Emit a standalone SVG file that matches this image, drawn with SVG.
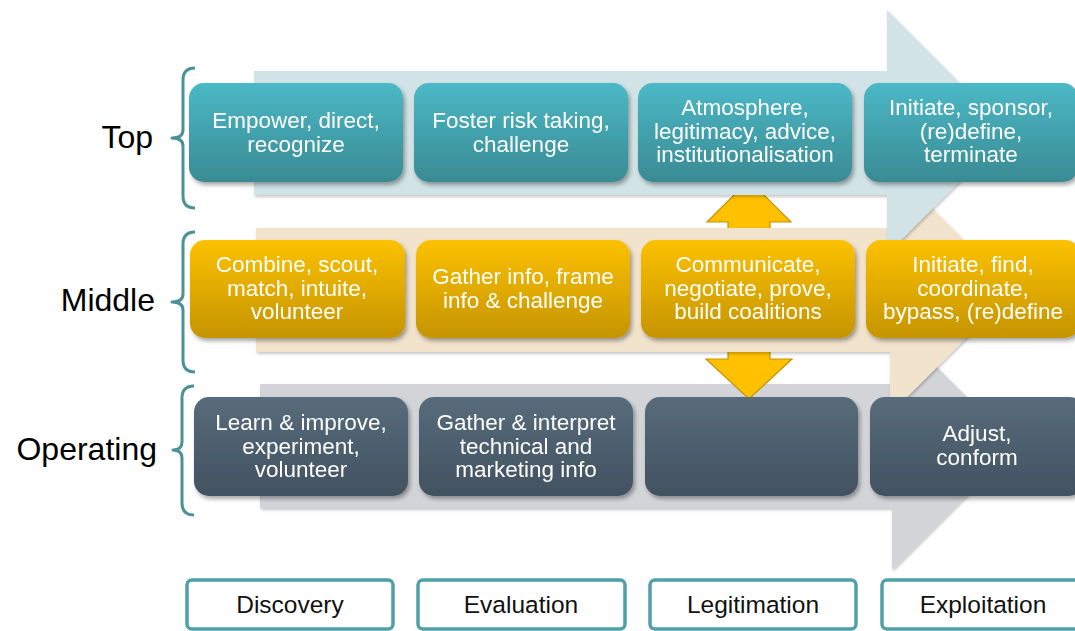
<svg xmlns="http://www.w3.org/2000/svg" width="1075" height="631" viewBox="0 0 1075 631">
  <defs>
    <linearGradient id="gTop" x1="0" y1="0" x2="0" y2="1">
      <stop offset="0" stop-color="#4BB9C6"/>
      <stop offset="1" stop-color="#398A93"/>
    </linearGradient>
    <linearGradient id="gMid" x1="0" y1="0" x2="0" y2="1">
      <stop offset="0" stop-color="#FCC100"/>
      <stop offset="1" stop-color="#C59400"/>
    </linearGradient>
    <linearGradient id="gOp" x1="0" y1="0" x2="0" y2="1">
      <stop offset="0" stop-color="#576C7B"/>
      <stop offset="1" stop-color="#425160"/>
    </linearGradient>
    <filter id="shadow" x="-10%" y="-10%" width="125%" height="130%">
      <feDropShadow dx="2" dy="3" stdDeviation="2" flood-color="#000" flood-opacity="0.35"/>
    </filter>
    <filter id="bandShadow" x="-10%" y="-10%" width="125%" height="130%">
      <feDropShadow dx="1" dy="2" stdDeviation="1.5" flood-color="#000" flood-opacity="0.22"/>
    </filter>
    <style>
      .node { filter: url(#shadow); }
      .top { fill: url(#gTop); }
      .mid { fill: url(#gMid); }
      .op { fill: url(#gOp); }
      .ntext { font-family: "Liberation Sans", Arial, sans-serif; font-size: 22.5px; fill: #FFFFFF; text-anchor: middle; }
      .level { font-family: "Liberation Sans", Arial, sans-serif; font-size: 32px; fill: #000000; text-anchor: end; }
      .phase rect { fill: #FFFFFF; stroke: #4FA0A8; stroke-width: 3.5; }
      .phase text { font-family: "Liberation Sans", Arial, sans-serif; font-size: 24.5px; fill: #111111; text-anchor: middle; }
      .brace { fill: none; stroke: #4A9198; stroke-width: 3; stroke-linejoin: round; }
      .yarrow { fill: #FFC000; stroke: #C39300; stroke-width: 1.2; }
      .band { filter: url(#bandShadow); }
    </style>
  </defs>

  <!-- Large phase flow arrows behind each level -->
  <g id="band-operating">
    <polygon class="band" fill="#D2D4D7" points="260,384 892,384 892,322 1016,446 892,570 892,508 260,508"/>
  </g>

  <!-- Connectors between levels -->
  <g id="connectors">
    <polygon class="yarrow" points="728,340 770,340 770,359 792,359 749,399 706,359 728,359"/>
    <polygon class="yarrow" points="749,180 791,222 770,222 770,240 728,240 728,222 707,222"/>
  </g>

  <g id="band-middle">
    <polygon class="band" fill="#F2E3CD" points="256,228 890,228 890,166 1014,290 890,414 890,352 256,352"/>
  </g>
  <g id="band-top">
    <polygon class="band" fill="#D1E3E6" points="254,71 887,71 887,10 1009,132 887,254 887,195 254,195"/>
  </g>

  <!-- Level braces and labels -->
  <g id="level-top">
    <path class="brace" d="M195,68 Q183,68 183,80 L183,130 Q183,138 172,138 Q183,138 183,146 L183,196 Q183,208 195,208"/>
    <text class="level" x="153" y="148">Top</text>
  </g>
  <g id="level-middle">
    <path class="brace" d="M195,232 Q183,232 183,244 L183,294 Q183,302 172,302 Q183,302 183,310 L183,360 Q183,372 195,372"/>
    <text class="level" x="155" y="311">Middle</text>
  </g>
  <g id="level-operating">
    <path class="brace" d="M194,386 Q182,386 182,398 L182,442 Q182,450 173,450 Q182,450 182,458 L182,503 Q182,515 194,515"/>
    <text class="level" x="157" y="460">Operating</text>
  </g>

  <!-- Top management roles -->
  <g id="top-discovery" class="node">
    <rect class="top" x="189" y="83" width="214" height="99" rx="15"/>
    <text class="ntext" x="296" y="128">Empower, direct,</text>
    <text class="ntext" x="296" y="152">recognize</text>
  </g>
  <g id="top-evaluation" class="node">
    <rect class="top" x="414" y="83" width="214" height="99" rx="15"/>
    <text class="ntext" x="521" y="128">Foster risk taking,</text>
    <text class="ntext" x="521" y="152">challenge</text>
  </g>
  <g id="top-legitimation" class="node">
    <rect class="top" x="638" y="83" width="214" height="99" rx="15"/>
    <text class="ntext" x="745" y="115">Atmosphere,</text>
    <text class="ntext" x="745" y="138.5">legitimacy, advice,</text>
    <text class="ntext" x="745" y="162">institutionalisation</text>
  </g>
  <g id="top-exploitation" class="node">
    <rect class="top" x="864" y="83" width="214" height="99" rx="15"/>
    <text class="ntext" x="971" y="115">Initiate, sponsor,</text>
    <text class="ntext" x="971" y="138.5">(re)define,</text>
    <text class="ntext" x="971" y="162">terminate</text>
  </g>

  <!-- Middle management roles -->
  <g id="middle-discovery" class="node">
    <rect class="mid" x="190" y="240" width="215" height="98" rx="15"/>
    <text class="ntext" x="297" y="272">Combine, scout,</text>
    <text class="ntext" x="297" y="295.5">match, intuite,</text>
    <text class="ntext" x="297" y="319">volunteer</text>
  </g>
  <g id="middle-evaluation" class="node">
    <rect class="mid" x="416" y="240" width="214" height="98" rx="15"/>
    <text class="ntext" x="523" y="284">Gather info, frame</text>
    <text class="ntext" x="523" y="308">info &amp; challenge</text>
  </g>
  <g id="middle-legitimation" class="node">
    <rect class="mid" x="641" y="240" width="214" height="98" rx="15"/>
    <text class="ntext" x="748" y="272">Communicate,</text>
    <text class="ntext" x="748" y="295.5">negotiate, prove,</text>
    <text class="ntext" x="748" y="319">build coalitions</text>
  </g>
  <g id="middle-exploitation" class="node">
    <rect class="mid" x="866" y="240" width="214" height="98" rx="15"/>
    <text class="ntext" x="973" y="272">Initiate, find,</text>
    <text class="ntext" x="973" y="295.5">coordinate,</text>
    <text class="ntext" x="973" y="319">bypass, (re)define</text>
  </g>

  <!-- Operating level roles -->
  <g id="operating-discovery" class="node">
    <rect class="op" x="194" y="397" width="214" height="99" rx="15"/>
    <text class="ntext" x="301" y="430">Learn &amp; improve,</text>
    <text class="ntext" x="301" y="453.5">experiment,</text>
    <text class="ntext" x="301" y="477">volunteer</text>
  </g>
  <g id="operating-evaluation" class="node">
    <rect class="op" x="419" y="397" width="214" height="99" rx="15"/>
    <text class="ntext" x="526" y="430">Gather &amp; interpret</text>
    <text class="ntext" x="526" y="453.5">technical and</text>
    <text class="ntext" x="526" y="477">marketing info</text>
  </g>
  <g id="operating-legitimation" class="node">
    <rect class="op" x="645" y="397" width="213" height="99" rx="15"/>
  </g>
  <g id="operating-exploitation" class="node">
    <rect class="op" x="870" y="397" width="214" height="99" rx="15"/>
    <text class="ntext" x="977" y="441">Adjust,</text>
    <text class="ntext" x="977" y="465">conform</text>
  </g>

  <!-- Phase labels -->
  <g id="phase-discovery" class="phase">
    <rect x="187" y="580" width="206" height="49" rx="5"/>
    <text x="290" y="613">Discovery</text>
  </g>
  <g id="phase-evaluation" class="phase">
    <rect x="418" y="580" width="207" height="49" rx="5"/>
    <text x="521" y="613">Evaluation</text>
  </g>
  <g id="phase-legitimation" class="phase">
    <rect x="650" y="580" width="206" height="49" rx="5"/>
    <text x="753" y="613">Legitimation</text>
  </g>
  <g id="phase-exploitation" class="phase">
    <rect x="882" y="580" width="206" height="49" rx="5"/>
    <text x="983" y="613">Exploitation</text>
  </g>
</svg>
